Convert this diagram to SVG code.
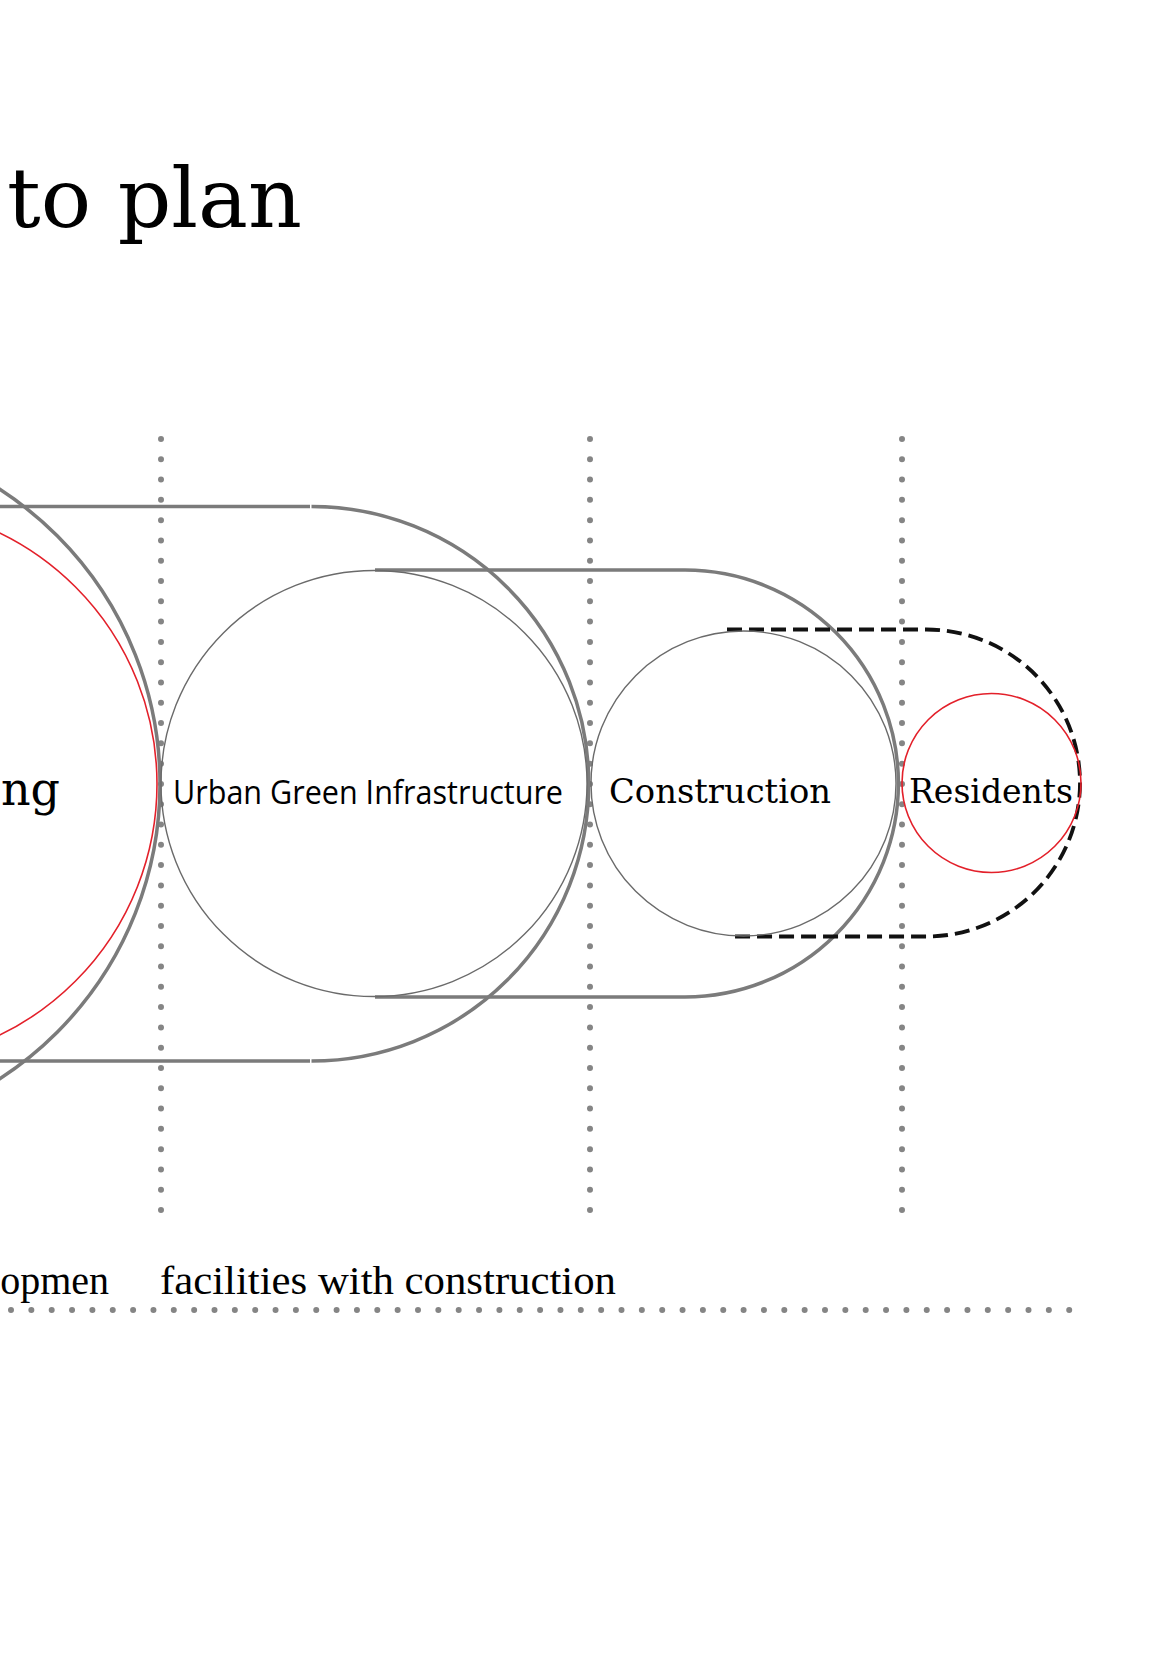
<svg xmlns="http://www.w3.org/2000/svg" width="1171" height="1654" viewBox="0 0 1171 1654">
  <style>
    .dots { stroke: #858585; stroke-width: 6; stroke-linecap: round; fill: none; }
    .vdots { stroke-dasharray: 0 20.29; }
    .hdots { stroke-dasharray: 0 20.35; }
    .thick { stroke: #7b7b7b; stroke-width: 3.5; fill: none; }
    .thin { stroke: #6a6a6a; stroke-width: 1.4; fill: none; }
    .red { stroke: #e3202a; stroke-width: 1.6; fill: none; }
    .dash { stroke: #111111; stroke-width: 3.8; fill: none; stroke-dasharray: 15 7; }
    .serif { font-family: "DejaVu Serif", "Liberation Serif", serif; fill: #000000; }
    .sans { font-family: "Open Sans", "Liberation Sans", sans-serif; fill: #000000; }
    .narrow { font-family: "Liberation Serif", "DejaVu Serif", serif; fill: #000000; }
  </style>
  <rect x="0" y="0" width="1171" height="1654" fill="#ffffff"/>

  <!-- Title -->
  <text id="title" class="serif" x="7" y="227" font-size="82" textLength="295" lengthAdjust="spacingAndGlyphs">to plan</text>

  <!-- Guides (dotted lines) -->
  <g id="guides">
    <line class="dots vdots" x1="161" y1="439" x2="161" y2="1211"/>
    <line class="dots vdots" x1="590" y1="439" x2="590" y2="1211"/>
    <line class="dots vdots" x1="902" y1="439" x2="902" y2="1211"/>
    <line class="dots hdots" x1="11" y1="1310" x2="1070" y2="1310"/>
  </g>

  <!-- Connectors / enclosing pills -->
  <g id="connectors">
    <path class="thick" d="M0,506.5 H310 M311.5,506.5 A277.25,277.25 0 0 1 311.5,1061 M310,1061 H0"/>
    <path class="thick" d="M375,570 H685 A213.5,213.5 0 0 1 685,997 H375"/>
    <path class="dash" d="M727,629.5 H926.5 A153.5,153.5 0 0 1 926.5,936.5 H732"/>
  </g>

  <!-- Planning node (cut off at left) -->
  <g id="node-planning">
    <circle class="thick" cx="-191" cy="784" r="351"/>
    <circle class="red" cx="-122" cy="784" r="279"/>
    <text class="serif" x="60" y="805" font-size="46" text-anchor="end">ng</text>
  </g>

  <!-- Urban Green Infrastructure node -->
  <g id="node-ugi">
    <circle class="thin" cx="374" cy="783.5" r="213"/>
    <text class="sans" x="173" y="804" font-size="32" textLength="390" lengthAdjust="spacingAndGlyphs">Urban Green Infrastructure</text>
  </g>

  <!-- Construction node -->
  <g id="node-construction">
    <circle class="thin" cx="743.5" cy="783.5" r="152.5"/>
    <text class="serif" x="609" y="803" font-size="34" textLength="222" lengthAdjust="spacingAndGlyphs">Construction</text>
  </g>

  <!-- Residents node -->
  <g id="node-residents">
    <circle class="red" cx="991.5" cy="783" r="89.5"/>
    <text class="serif" x="909" y="803" font-size="33" textLength="164" lengthAdjust="spacingAndGlyphs">Residents</text>
  </g>

  <!-- Bottom labels -->
  <g id="bottom-labels">
    <text class="narrow" x="109" y="1294" font-size="40" text-anchor="end">opmen</text>
    <text class="narrow" x="160" y="1294" font-size="40" textLength="456" lengthAdjust="spacingAndGlyphs">facilities with construction</text>
  </g>
</svg>
